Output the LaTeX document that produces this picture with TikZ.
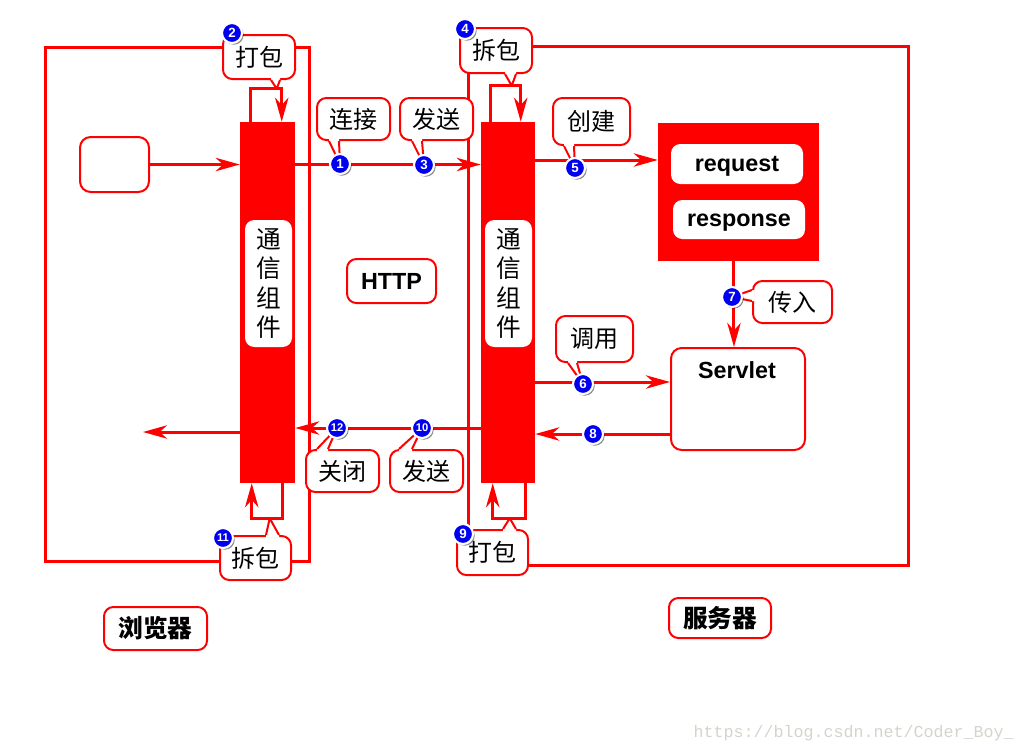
\documentclass[tikz,border=0pt]{standalone}
\usepackage{fontspec}
\setmainfont{Liberation Sans}
\newfontfamily\cjk{Noto Sans CJK SC}
\newfontfamily\wmfont{Liberation Mono}
\usetikzlibrary{arrows.meta,calc,shadows}
\definecolor{wmgray}{RGB}{212,212,204}
\definecolor{numblue}{RGB}{0,0,240}
\newcommand\mkpointer[5]{%
  \fill[white] ($(#1)+(#2)+(#5)$) -- ($(#1)+(#2)$) -- (#4) -- ($(#1)+(#3)$) -- ($(#1)+(#3)+(#5)$) -- cycle;
  \draw[ptrline] ($(#1)+(#2)$) -- (#4) -- ($(#1)+(#3)$);}
\begin{document}
\begin{tikzpicture}[x=0.75pt,y=-0.75pt,
  sz/.style 2 args={minimum width=#1*0.75pt, minimum height=#2*0.75pt},
  framebox/.style={draw=red, line width=2.25pt, inner sep=0pt},
  conn/.style={draw=red, line width=2.25pt, -{Stealth[length=18pt,width=10pt,inset=5.5pt]}},
  bar/.style={fill=red, draw=none, inner sep=0pt},
  barlabel/.style={fill=white, draw=none, rounded corners=7pt, inner sep=0pt, align=center, font=\cjk\fontsize{18.5}{21.8}\selectfont},
  plain/.style={draw=red, line width=1.5pt, fill=white, rounded corners=8pt, inner sep=0pt},
  note/.style={draw=red, line width=1.5pt, fill=white, rounded corners=7pt, inner sep=0pt, font=\cjk\fontsize{18}{18}\selectfont},
  pill/.style={fill=white, draw=none, rounded corners=7pt, inner sep=0pt, text height=11pt, text depth=0pt, font=\bfseries\fontsize{17.5}{17.5}\selectfont},
  ptrline/.style={draw=red, line width=1.5pt, line join=round},
  num/.style={circle, fill=numblue, draw=white, line width=1.6pt, minimum size=15pt, inner sep=0pt, text=white,
    font=\bfseries\fontsize{10}{10}\selectfont,
    drop shadow={shadow xshift=1.3pt, shadow yshift=-1.3pt, opacity=0.45, fill=black}},
  numtwo/.style={num, font=\bfseries\fontsize{8.4}{8.4}\selectfont}
]
\useasboundingbox (0,0) rectangle (1024,753);

% frames
\node[framebox, sz={264}{514}] (browser) at (177,304) {};
\node[framebox, sz={440}{519}] (server) at (688,305.5) {};

% bars and boxes
\node[bar, sz={55}{361}] (lbar) at (267.5,302.5) {};
\node[bar, sz={54}{361}] (rbar) at (508,302.5) {};
\node[plain, sz={69}{55}] (src) at (114.5,164.5) {};
\node[bar, sz={161}{138}] (req) at (738.5,192) {};
\node[pill, sz={132}{40}] (rq) at (737,164) {request};
\node[pill, sz={132}{39}] (rs) at (739,219.5) {response};
\node[plain, sz={134}{102}] (servlet) at (738,399) {};
\node[font=\bfseries\fontsize{17.5}{17.5}\selectfont] (servlettxt) at (737,370) {Servlet};

% connectors
\coordinate (h5) at (0,160);
\coordinate (h6) at (0,382);
\coordinate (h8) at (0,434);
\coordinate (h10) at (0,428);
\coordinate (out) at (143,432);
\draw[conn] (src.east) -- (src.east -| lbar.west);
\draw[conn] (lbar.east |- src.east) -- (rbar.west |- src.east);
\draw[conn] (rbar.east |- h5) -- (req.west |- h5);
\draw[conn] ([xshift=-3.4pt]req.south) -- ([xshift=-3.4pt]req.south |- servlet.north);
\draw[conn] (rbar.east |- h6) -- (servlet.west |- h6);
\draw[conn] (servlet.west |- h8) -- (rbar.east |- h8);
\draw[conn] (rbar.west |- h10) -- (lbar.east |- h10);
\draw[conn] (lbar.west |- out) -- (out);

% loops
\draw[conn] ($(lbar.north west)+(11,0)$) -- ++(0,-33) -- ++(31,0) -- ($(lbar.north west)+(42,0)$);
\coordinate (t2) at ($(lbar.north west)+(37,-33)$);
\draw[conn] ($(rbar.north west)+(10,0)$) -- ++(0,-36) -- ++(30,0) -- ($(rbar.north west)+(40,0)$);
\coordinate (t4) at ($(rbar.north west)+(31,-36)$);
\draw[conn] ($(lbar.south west)+(43,0)$) -- ++(0,35) -- ++(-31,0) -- ($(lbar.south west)+(12,0)$);
\coordinate (t11) at ($(lbar.south west)+(30,35)$);
\draw[conn] ($(rbar.south west)+(45,0)$) -- ++(0,35) -- ++(-33,0) -- ($(rbar.south west)+(12,0)$);
\coordinate (t9) at ($(rbar.south west)+(29,35)$);

% bar labels
\node[barlabel, sz={47}{127}] (llab) at (268.5,283.5) {通\\信\\组\\件};
\node[barlabel, sz={47}{127}] (rlab) at (508.5,283.5) {通\\信\\组\\件};

% callouts
\node[note, sz={73}{42}] (c1) at (353.5,119) {连接};
\node[note, sz={73}{42}] (c3) at (436.5,119) {发送};
\node[note, sz={72}{44}] (c2) at (259,57) {打包};
\node[note, sz={72}{45}] (c4) at (496,50.5) {拆包};
\node[note, sz={77}{47}] (c5) at (591.5,121.5) {创建};
\node[note, sz={79}{42}] (c7) at (792.5,302) {传入};
\node[note, sz={77}{46}] (c6) at (594.5,339) {调用};
\node[note, sz={73}{42}] (c12) at (342.5,471) {关闭};
\node[note, sz={73}{42}] (c10) at (426.5,471) {发送};
\node[note, sz={71}{45}] (c9) at (492.5,552.5) {打包};
\node[note, sz={71}{44}] (c11) at (255.5,558) {拆包};
\node[note, sz={89}{44}, font=\bfseries\fontsize{17.5}{17.5}\selectfont] (http) at (391.5,281) {HTTP};
\node[note, sz={103}{43}, font=\cjk\bfseries\fontsize{18.5}{18.5}\selectfont] (lbrowser) at (155.5,628.5) {浏览器};
\node[note, sz={102}{40}, font=\cjk\bfseries\fontsize{18.5}{18.5}\selectfont] (lserver) at (720,618) {服务器};

% number positions
\coordinate (p1) at (340,164);
\coordinate (p2) at (232,33);
\coordinate (p3) at (424,165);
\coordinate (p4) at (465,29);
\coordinate (p5) at (575,168);
\coordinate (p6) at (583,384);
\coordinate (p7) at (732,297);
\coordinate (p8) at (593,434);
\coordinate (p9) at (463,534);
\coordinate (p10) at (422,428);
\coordinate (p11) at (223,538);
\coordinate (p12) at (337,428);

% pointers
\mkpointer{c1.south west}{13,0}{23,0}{p1}{0,-2.5}
\mkpointer{c3.south west}{13,0}{23,0}{p3}{0,-2.5}
\mkpointer{c2.south west}{49,0}{58,0}{t2}{0,-2.5}
\mkpointer{c4.south west}{46,0}{57,0}{t4}{0,-2.5}
\mkpointer{c5.south west}{12,0}{22,0}{p5}{0,-2.5}
\mkpointer{c6.south west}{13,0}{22,0}{p6}{0,-2.5}
\mkpointer{c7.north west}{0,10}{0,21}{p7}{2.5,0}
\mkpointer{c12.north west}{12,0}{23,0}{p12}{0,2.5}
\mkpointer{c10.north west}{10,0}{23,0}{p10}{0,2.5}
\mkpointer{c9.north west}{47,0}{60,0}{t9}{0,2.5}
\mkpointer{c11.north west}{47,0}{60,0}{t11}{0,2.5}

% numbers
\node[num] (n1) at (p1) {1};
\node[num] (n2) at (p2) {2};
\node[num] (n3) at (p3) {3};
\node[num] (n4) at (p4) {4};
\node[num] (n5) at (p5) {5};
\node[num] (n6) at (p6) {6};
\node[num] (n7) at (p7) {7};
\node[num] (n8) at (p8) {8};
\node[num] (n9) at (p9) {9};
\node[numtwo] (n10) at (p10) {10};
\node[numtwo] (n11) at (p11) {11};
\node[numtwo] (n12) at (p12) {12};

% watermark
\node[anchor=east, inner sep=0pt, text=wmgray, font=\wmfont\fontsize{12.5}{12.5}\selectfont] (wm) at (1014,733) {https://blog.csdn.net/Coder\_Boy\_};
\end{tikzpicture}
\end{document}
